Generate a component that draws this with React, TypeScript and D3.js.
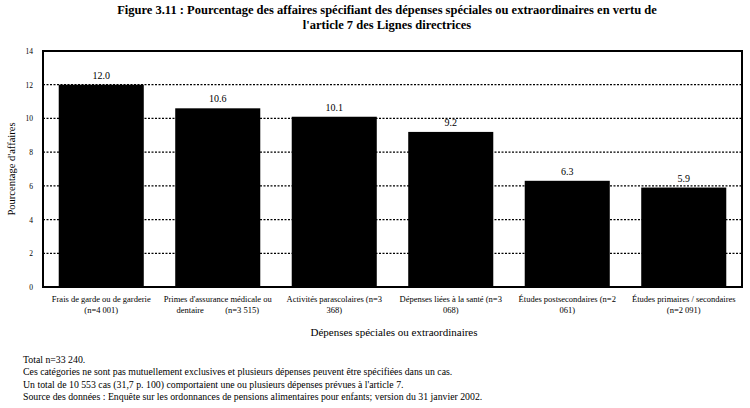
import React from "react";
import * as d3 from "d3";

const titleLines = [
  "Figure 3.11 : Pourcentage des affaires spécifiant des dépenses spéciales ou extraordinaires en vertu de",
  "l'article 7 des Lignes directrices",
];
const categoryLines: string[][] = [
  ["Frais de garde ou de garderie", "(n=4 001)"],
  ["Primes d'assurance médicale ou", "dentaire          (n=3 515)"],
  ["Activités parascolaires (n=3", "368)"],
  ["Dépenses liées à la santé (n=3", "068)"],
  ["Études postsecondaires (n=2", "061)"],
  ["Études primaires / secondaires", "(n=2 091)"],
];
const values = [12.0, 10.6, 10.1, 9.2, 6.3, 5.9];
const yTicks = [0, 2, 4, 6, 8, 10, 12, 14];
const gridTicks = [2, 4, 6, 8, 10, 12];
const yTitle = "Pourcentage d'affaires";
const xTitle = "Dépenses spéciales ou extraordinaires";
const notes = [
  "Total n=33 240.",
  "Ces catégories ne sont pas mutuellement exclusives et plusieurs dépenses peuvent être spécifiées dans un cas.",
  "Un total de 10 553 cas (31,7 p. 100) comportaient une ou plusieurs dépenses prévues à l'article 7.",
  "Source des données : Enquête sur les ordonnances de pensions alimentaires pour enfants; version du 31 janvier 2002.",
];

const W = 750;
const H = 408;
const plot = { left: 43, right: 742, top: 51, bottom: 287 };
const font = "'Liberation Serif', 'Times New Roman', serif";

export default function App() {
  const idx = categoryLines.map((_, i) => String(i));
  const x = d3
    .scaleBand<string>()
    .domain(idx)
    .range([plot.left, plot.right])
    .paddingInner(0.27)
    .paddingOuter(0.135);
  const y = d3.scaleLinear().domain([0, 14]).range([plot.bottom, plot.top]);

  return (
    <svg
      width={W}
      height={H}
      style={{ position: "absolute", left: 0, top: 0, background: "#fff" }}
      fontFamily={font}
    >
      <rect x={0} y={0} width={W} height={H} fill="#fff" />
      {titleLines.map((t, i) => (
        <text
          key={i}
          x={387}
          y={14 + i * 15}
          textAnchor="middle"
          fontWeight="bold"
          fontSize={12.5}
          fill="#000"
        >
          {t}
        </text>
      ))}
      {gridTicks.map((v) => (
        <line
          key={v}
          x1={plot.left}
          x2={plot.right}
          y1={y(v)}
          y2={y(v)}
          stroke="#000"
          strokeWidth={1.2}
          strokeDasharray="2,1.5"
        />
      ))}
      {values.map((v, i) => (
        <g key={i}>
          <rect
            x={x(String(i))}
            y={y(v)}
            width={x.bandwidth()}
            height={y(0) - y(v)}
            fill="#000"
          />
          <text
            x={(x(String(i)) as number) + x.bandwidth() / 2}
            y={y(v) - 6}
            textAnchor="middle"
            fontSize={10}
            fill="#000"
          >
            {v.toFixed(1)}
          </text>
        </g>
      ))}
      <rect
        x={plot.left}
        y={plot.top}
        width={plot.right - plot.left}
        height={plot.bottom - plot.top}
        fill="none"
        stroke="#000"
        strokeWidth={2}
      />
      {yTicks.map((v) => (
        <text
          key={v}
          x={33}
          y={y(v) + 3}
          textAnchor="end"
          fontSize={7.5}
          fill="#000"
        >
          {v}
        </text>
      ))}
      <text
        transform={`translate(15,${(plot.top + plot.bottom) / 2}) rotate(-90)`}
        textAnchor="middle"
        fontSize={10.5}
        fill="#000"
      >
        {yTitle}
      </text>
      {categoryLines.map((lines, i) => (
        <text
          key={i}
          x={(x(String(i)) as number) + x.bandwidth() / 2}
          textAnchor="middle"
          fontSize={8.5}
          fill="#000"
          style={{ whiteSpace: "pre" }}
        >
          {lines.map((l, j) => (
            <tspan key={j} x={(x(String(i)) as number) + x.bandwidth() / 2} y={302 + j * 11}>
              {l}
            </tspan>
          ))}
        </text>
      ))}
      <text x={394} y={336} textAnchor="middle" fontSize={11} fill="#000">
        {xTitle}
      </text>
      {notes.map((n, i) => (
        <text key={i} x={23} y={363 + i * 12.3} fontSize={9.8} fill="#000">
          {n}
        </text>
      ))}
    </svg>
  );
}
